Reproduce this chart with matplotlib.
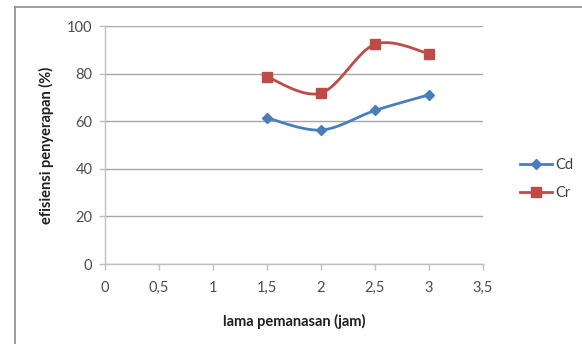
import numpy as np
import matplotlib
matplotlib.use("Agg")
import matplotlib.pyplot as plt
from matplotlib.lines import Line2D

# Data
hours = [1.5, 2.0, 2.5, 3.0]
cd = [61.4, 56.3, 64.5, 71.1]
cr = [78.6, 71.8, 92.3, 88.4]
x_ticks = [0, 0.5, 1, 1.5, 2, 2.5, 3, 3.5]
x_tick_labels = ["0", "0,5", "1", "1,5", "2", "2,5", "3", "3,5"]
y_ticks = [0, 20, 40, 60, 80, 100]
series_names = ["Cd", "Cr"]

plt.rcParams['font.family'] = ['Lato', 'DejaVu Sans']


def smooth(xs, ys, n=30, t=1/6):
    # Excel-like smoothed line: cubic Bezier through points (Catmull-Rom controls)
    xs = np.asarray(xs, float)
    ys = np.asarray(ys, float)
    px = np.concatenate([[xs[0]], xs, [xs[-1]]])
    py = np.concatenate([[ys[0]], ys, [ys[-1]]])
    ox, oy = [], []
    for i in range(1, len(px) - 2):
        p0 = np.array([px[i], py[i]])
        p3 = np.array([px[i + 1], py[i + 1]])
        c1 = p0 + t * (np.array([px[i + 1], py[i + 1]]) - np.array([px[i - 1], py[i - 1]]))
        c2 = p3 - t * (np.array([px[i + 2], py[i + 2]]) - np.array([px[i], py[i]]))
        s = np.linspace(0, 1, n)[:, None]
        pts = (1 - s) ** 3 * p0 + 3 * (1 - s) ** 2 * s * c1 + 3 * (1 - s) * s ** 2 * c2 + s ** 3 * p3
        ox.extend(pts[:, 0]); oy.extend(pts[:, 1])
    return np.array(ox), np.array(oy)


W, H = 582, 344
fig = plt.figure(figsize=(W / 100, H / 100), dpi=100)
ax = fig.add_axes([105 / W, (H - 264) / H, 378 / W, 238 / H])

blue = "#4A7EBB"
red = "#BE4B48"

for ys, col, mk, ms in [(cd, blue, "D", 5.5), (cr, red, "s", 7.5)]:
    sx, sy = smooth(hours, ys)
    ax.plot(sx, sy, color=col, lw=2.0, solid_capstyle="round", zorder=3)
    ax.plot(hours, ys, ls="none", marker=mk, ms=ms, color=col, zorder=4)

ax.set_xlim(0, 3.5)
ax.set_ylim(0, 100)
ax.set_xticks(x_ticks)
ax.set_xticklabels(x_tick_labels)
ax.set_yticks(y_ticks)
ax.yaxis.grid(True, color="#A6A6A6", lw=1.0)
ax.set_axisbelow(True)
for s in ["top", "right"]:
    ax.spines[s].set_visible(False)
for s in ["left", "bottom"]:
    ax.spines[s].set_color("#BFBFBF")
    ax.spines[s].set_linewidth(1.0)
ax.tick_params(axis="both", colors="#BFBFBF", length=4, width=1.0, labelcolor="#4D4D4D", labelsize=10.5)
ax.tick_params(axis="x", pad=8)
ax.tick_params(axis="y", pad=5)

ax.set_xlabel("lama pemanasan (jam)", fontsize=10.5, fontweight="bold", color="#1F1F1F", labelpad=14)
ax.set_ylabel("efisiensi penyerapan (%)", fontsize=10.5, fontweight="bold", color="#1F1F1F", labelpad=9)

handles = [
    Line2D([], [], color=blue, lw=2.0, marker="D", ms=5.5),
    Line2D([], [], color=red, lw=2.0, marker="s", ms=7.5),
]
fig.legend(handles, series_names, loc="center left", bbox_to_anchor=(507 / W, 1 - 179 / H),
           frameon=False, fontsize=10.5, handlelength=2.2, labelspacing=0.95, handletextpad=0.2,
           labelcolor="#404040")

# partial frame border (top and left)
fig.add_artist(Line2D([15 / W, 1.0], [1 - 7 / H, 1 - 7 / H], transform=fig.transFigure, color="#8C8C8C", lw=1.2))
fig.add_artist(Line2D([15 / W, 15 / W], [0, 1 - 7 / H], transform=fig.transFigure, color="#8C8C8C", lw=1.2))

fig.savefig("out.png", dpi=100)
